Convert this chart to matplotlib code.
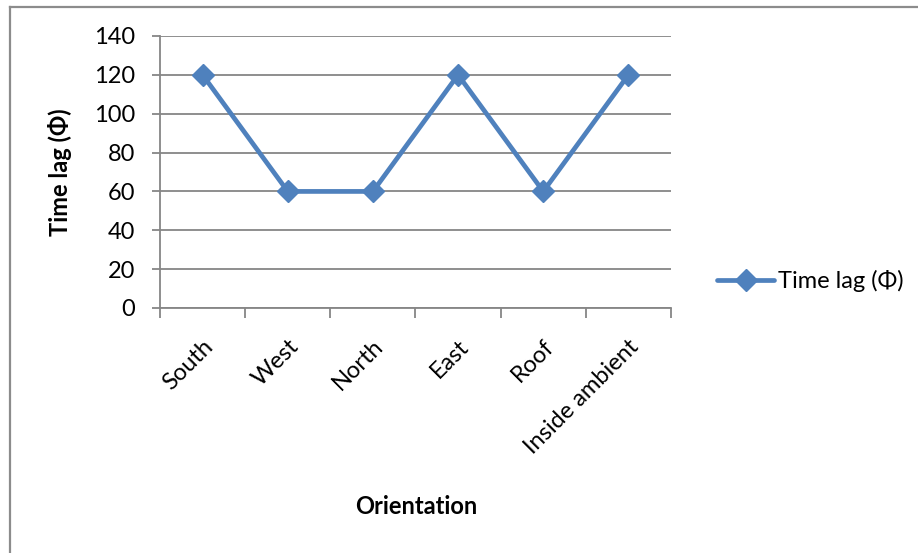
import matplotlib.pyplot as plt
from matplotlib.lines import Line2D

# Time lag per orientation
orientations = ["South", "West", "North", "East", "Roof", "Inside ambient"]
time_lag = [120, 60, 60, 120, 60, 120]
y_ticks = [0, 20, 40, 60, 80, 100, 120, 140]

plt.rcParams['font.family'] = ['Lato', 'DejaVu Sans']
W, H = 918, 553
fig = plt.figure(figsize=(W / 100, H / 100), dpi=100)

ax = fig.add_axes([160 / W, 1 - 308 / H, 511 / W, 272 / H])
blue = '#4F81BD'
grey = '#868686'

x = list(range(len(orientations)))
ax.plot(x, time_lag, color=blue, lw=3.4, marker='D', ms=11,
        markerfacecolor=blue, markeredgecolor=blue, label='Time lag (Φ)',
        solid_capstyle='round', zorder=3)

ax.set_xlim(-0.5, len(orientations) - 0.5)
ax.set_ylim(0, 140)
ax.set_yticks(y_ticks)
ax.yaxis.grid(True, color=grey, lw=1.3)
ax.set_axisbelow(True)

# category ticks sit between the points, labels under the points
ax.set_xticks([i - 0.5 for i in range(len(orientations) + 1)])
ax.set_xticklabels([])
ax.set_xticks(x, minor=True)
ax.set_xticklabels(orientations, minor=True, rotation=45, ha='right',
                   rotation_mode='anchor', fontsize=17)
ax.tick_params(axis='x', which='minor', length=0, pad=20)
ax.tick_params(axis='x', which='major', length=7, width=1.3, color=grey)
ax.tick_params(axis='y', length=6, width=1.3, color=grey, pad=12, labelsize=17)

for s in ['top', 'right']:
    ax.spines[s].set_visible(False)
for s in ['left', 'bottom']:
    ax.spines[s].set_color(grey)
    ax.spines[s].set_linewidth(1.3)

ax.set_ylabel('Time lag (Φ)', fontsize=17, fontweight='bold')
ax.yaxis.set_label_coords((72 - 160) / 511, 0.5)
fig.text(416 / W, 1 - 507 / H, 'Orientation', fontsize=17, fontweight='bold',
         ha='center', va='center')

ax.legend(loc='center left', bbox_to_anchor=(708 / W, 1 - 281 / H),
          bbox_transform=fig.transFigure, frameon=False, fontsize=17,
          handlelength=2.4, handletextpad=0.15, borderaxespad=0)

# chart frame
fig.add_artist(Line2D([10 / W, 10 / W], [0, 1 - 7 / H], color='#8c8c8c', lw=1.6))
fig.add_artist(Line2D([10 / W, 1], [1 - 7 / H, 1 - 7 / H], color='#8c8c8c', lw=1.6))

fig.savefig('out.png', dpi=100)
